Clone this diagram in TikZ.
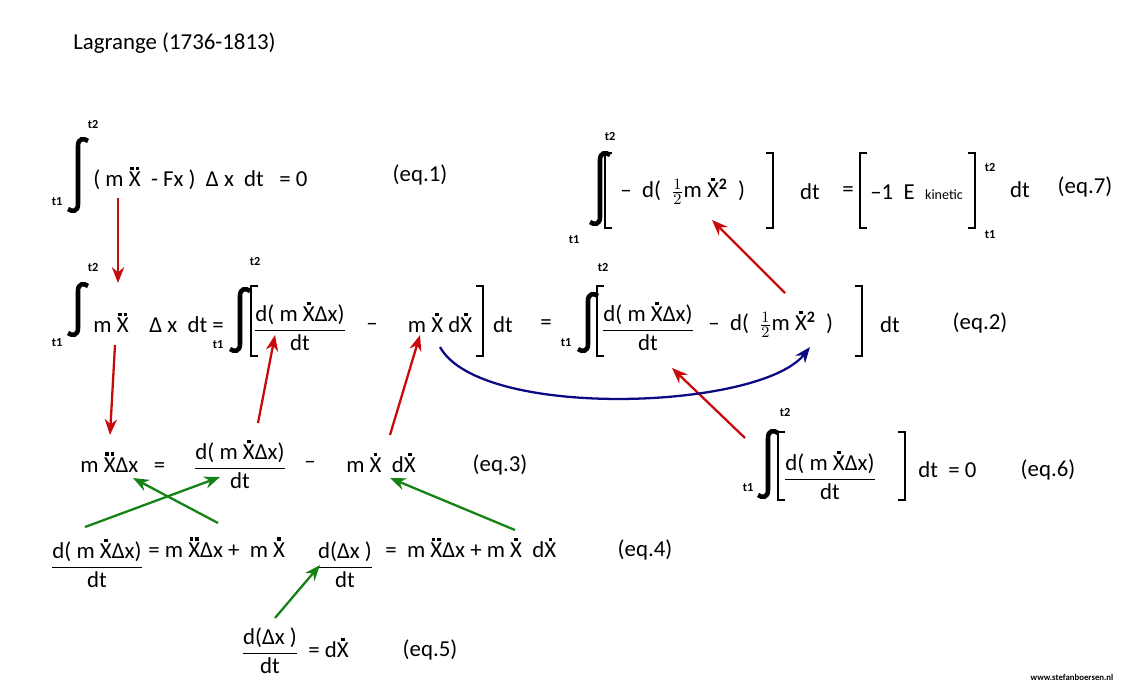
\documentclass[tikz,border=0pt]{standalone}
\usepackage{amsmath}
\usepackage{fontspec}
\setmainfont{Carlito}
\usetikzlibrary{arrows.meta}
\definecolor{redarrow}{RGB}{200,10,10}
\definecolor{greenarrow}{RGB}{20,130,20}
\definecolor{bluearrow}{RGB}{10,10,130}
\tikzset{
  eq/.style = {inner sep=0pt, font=\fontsize{13}{15}\selectfont},
  lim/.style = {inner sep=0pt, font=\bfseries\scriptsize},
  tag/.style = {inner sep=0pt, font=\fontsize{13}{15}\selectfont},
  redarr/.style = {-{Stealth[length=9pt,width=7pt]}, redarrow, line width=1.3pt},
  greenarr/.style = {-{Stealth[length=9pt,width=7pt]}, greenarrow, line width=1.3pt},
  intsign/.style = {line width=2.6pt},
  brack/.style = {line width=1.6pt},
}
% X with one or two square dots
\newcommand{\Xd}{{\ooalign{X\cr\hidewidth\raisebox{0.72em}{\rule{2pt}{2pt}}\hidewidth\cr}}}
\newcommand{\Xdd}{{\ooalign{X\cr\hidewidth\raisebox{0.72em}{\rule{2pt}{2pt}\kern1.2pt\rule{2pt}{2pt}}\hidewidth\cr}}}
\newcommand{\drawint}[3]{% x, top y, bottom y
  \draw[intsign] (#1+10,#2+3) .. controls (#1+6,#2) and (#1,#2) .. (#1,#2+8)
    -- (#1,#3-8) .. controls (#1,#3) and (#1-6,#3) .. (#1-10,#3-3);}
\newcommand{\lbrk}[3]{\draw[brack] (#1+7,#2) -- (#1,#2) -- (#1,#3) -- (#1+7,#3);}
\newcommand{\rbrk}[3]{\draw[brack] (#1-7,#2) -- (#1,#2) -- (#1,#3) -- (#1-7,#3);}
\begin{document}
\begin{tikzpicture}[x=0.02cm, y=-0.02cm]
\useasboundingbox (0,0) rectangle (1132,687);

\node[eq, anchor=west] (title) at (73,43) {Lagrange (1736-1813)};

% eq.1
\drawint{78}{138}{212}
\node[lim] (e1t2) at (93,125) {t2};
\node[lim] (e1t1) at (57,202) {t1};
\node[eq, anchor=west] (e1) at (93,180) {( m \Xdd\ \ - Fx )\ \ Δ x\ \ dt\ \ \ = 0};
\node[tag] (tag1) at (420,175) {(eq.1)};

% eq.2
\drawint{78}{283}{336}
\node[lim] (e2t2) at (93,268) {t2};
\node[lim] (e2t1) at (57,343) {t1};
\node[eq, anchor=west] (e2a) at (93,325) {m \Xdd\ \ \ \ Δ x\ \ dt =};
\drawint{240}{288}{352}
\node[lim] (e2t2b) at (255,262) {t2};
\node[lim] (e2t1b) at (218,345) {t1};
\lbrk{251}{286}{356}
\node[eq] (e2f) at (300,328) {$\dfrac{\text{d( m \Xd Δx)}}{\text{dt}}$};
\node[eq] (e2m) at (372,327) {--};
\node[eq] (e2b) at (440,325) {m \Xd\ d\Xd};
\rbrk{483}{286}{356}
\node[eq] (e2dt) at (503,325) {dt};
\node[eq] (e2eq) at (546,325) {=};
\drawint{588}{293}{352}
\node[lim] (e2t2c) at (603,268) {t2};
\node[lim] (e2t1c) at (566,343) {t1};
\lbrk{597}{286}{356}
\node[eq] (e2g) at (648,328) {$\dfrac{\text{d( m \Xd Δx)}}{\text{dt}}$};
\node[eq, anchor=west] (e2h) at (708,325) {--\ \ d(\ \ $\tfrac{1}{2}$m \Xd$^{\mathbf{2}}$\ \ )};
\rbrk{862}{286}{356}
\node[eq] (e2dt2) at (890,325) {dt};
\node[tag] (tag2) at (980,323) {(eq.2)};

% eq.7
\drawint{600}{152}{225}
\node[lim] (e7t2) at (610,137) {t2};
\node[lim] (e7t1) at (574,240) {t1};
\lbrk{605}{153}{228}
\node[eq, anchor=west] (e7a) at (620,192) {--\ \ d(\ \ $\tfrac{1}{2}$m \Xd$^{\mathbf{2}}$\ \ )};
\rbrk{773}{153}{228}
\node[eq] (e7dt) at (810,192) {dt};
\node[eq] (e7eq) at (848,192) {=};
\lbrk{860}{153}{228}
\node[eq, anchor=west] (e7b) at (870,192) {--1\ \ E\ \ {\footnotesize kinetic}};
\rbrk{975}{153}{228}
\node[lim] (e7t2b) at (990,168) {t2};
\node[lim] (e7t1b) at (990,235) {t1};
\node[eq] (e7dt2) at (1020,190) {dt};
\node[tag] (tag7) at (1085,187) {(eq.7)};

% eq.3
\node[eq, anchor=west] (e3a) at (80,465) {m \Xdd Δx\ \ \ =};
\node[eq] (e3f) at (240,466) {$\dfrac{\text{d( m \Xd Δx)}}{\text{dt}}$};
\node[eq] (e3m) at (310,465) {--};
\node[eq] (e3b) at (381,465) {m \Xd\ \ d\Xd};
\node[tag] (tag3) at (500,465) {(eq.3)};

% eq.6
\drawint{768}{430}{498}
\node[lim] (e6t2) at (785,413) {t2};
\node[lim] (e6t1) at (748,488) {t1};
\lbrk{778}{432}{500}
\node[eq] (e6f) at (830,477) {$\dfrac{\text{d( m \Xd Δx)}}{\text{dt}}$};
\rbrk{905}{432}{500}
\node[eq, anchor=west] (e6a) at (918,470) {dt\ \ = 0};
\node[tag] (tag6) at (1048,470) {(eq.6)};

% eq.4
\node[eq] (e4f) at (97,565) {$\dfrac{\text{d( m \Xd Δx)}}{\text{dt}}$};
\node[eq, anchor=west] (e4a) at (148,550) {= m \Xdd Δx +\ \ m \Xd};
\node[eq] (e4g) at (345,565) {$\dfrac{\text{d(Δx )}}{\text{dt}}$};
\node[eq, anchor=west] (e4b) at (385,550) {=\ \ m \Xdd Δx + m \Xd\ \ d\Xd};
\node[tag] (tag4) at (645,550) {(eq.4)};

% eq.5
\node[eq] (e5f) at (270,651) {$\dfrac{\text{d(Δx )}}{\text{dt}}$};
\node[eq, anchor=west] (e5a) at (308,650) {= d\Xd};
\node[tag] (tag5) at (430,650) {(eq.5)};

\node[inner sep=0pt, font=\bfseries\fontsize{5}{6}\selectfont] (web) at (1072,677) {www.stefanboersen.nl};

% arrows
\coordinate (r1a) at (118,198); \coordinate (r1b) at (118,283);
\coordinate (r2a) at (115,345); \coordinate (r2b) at (110,435);
\coordinate (r3a) at (258,423); \coordinate (r3b) at (275,335);
\coordinate (r4a) at (390,435); \coordinate (r4b) at (420,335);
\coordinate (r5a) at (745,438); \coordinate (r5b) at (672,368);
\coordinate (r6a) at (785,293); \coordinate (r6b) at (712,220);
\draw[redarr] (r1a) -- (r1b);
\draw[redarr] (r2a) -- (r2b);
\draw[redarr] (r3a) -- (r3b);
\draw[redarr] (r4a) -- (r4b);
\draw[redarr] (r5a) -- (r5b);
\draw[redarr] (r6a) -- (r6b);
\coordinate (g1a) at (85,527);  \coordinate (g1b) at (220,477);
\coordinate (g2a) at (218,523); \coordinate (g2b) at (133,478);
\coordinate (g3a) at (515,530); \coordinate (g3b) at (390,478);
\coordinate (g4a) at (275,618); \coordinate (g4b) at (320,565);
\draw[greenarr] (g1a) -- (g1b);
\draw[greenarr] (g2a) -- (g2b);
\draw[greenarr] (g3a) -- (g3b);
\draw[greenarr] (g4a) -- (g4b);
\coordinate (b1a) at (440,347); \coordinate (b1b) at (810,347);
\draw[-{Stealth[length=9pt,width=7pt]}, bluearrow, line width=1.3pt]
  (b1a) .. controls (480,420) and (760,410) .. (b1b);
\end{tikzpicture}
\end{document}
